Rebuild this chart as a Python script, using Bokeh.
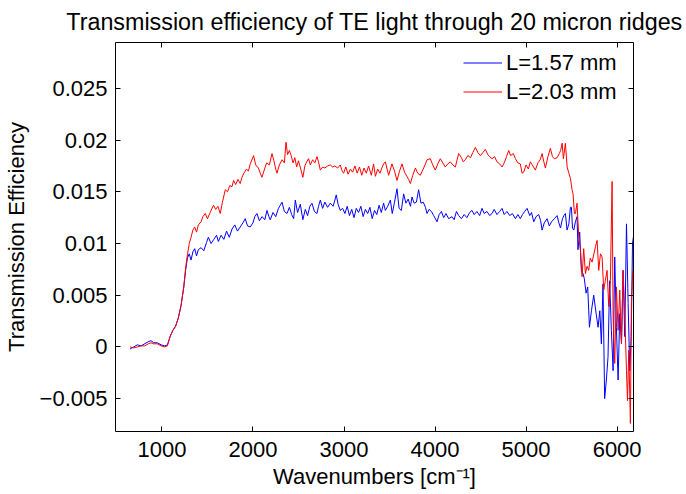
from bokeh.plotting import figure
from bokeh.models import Range1d, LinearAxis, FixedTicker, Legend, LegendItem
from bokeh.embed import file_html
from bokeh.resources import INLINE

# ---------------- data ----------------
wn_157 = [650, 690, 730, 770, 810, 850, 880, 910, 950, 990, 1030, 1060, 1090, 1120, 1150, 1180,
          1210, 1240, 1260, 1280, 1300, 1320, 1340, 1360, 1380, 1400, 1430, 1460, 1490, 1510,
          1540, 1570, 1600, 1620, 1650, 1680, 1710, 1740, 1770, 1800, 1830, 1860, 1890, 1915,
          1940, 1970, 2000, 2020, 2044, 2070, 2100, 2130, 2154, 2175, 2190, 2220, 2250, 2280,
          2300, 2319, 2345, 2374, 2400, 2425, 2447, 2465, 2490, 2520, 2548, 2575, 2600, 2625,
          2648, 2675, 2703, 2720, 2740, 2765, 2790, 2820, 2849, 2880, 2900, 2915, 2935, 2959,
          2985, 3010, 3035, 3060, 3085, 3110, 3135, 3160, 3185, 3210, 3235, 3260, 3285, 3310,
          3335, 3360, 3385, 3410, 3435, 3454, 3480, 3509, 3530, 3555, 3582, 3605, 3630, 3655,
          3680, 3705, 3730, 3747, 3770, 3795, 3820, 3845, 3870, 3895, 3912, 3935, 3960, 3985,
          4022, 4045, 4070, 4095, 4120, 4150, 4186, 4210, 4235, 4260, 4290, 4320, 4350, 4380,
          4406, 4430, 4460, 4490, 4516, 4540, 4570, 4600, 4626, 4650, 4680, 4710, 4736, 4760,
          4790, 4820, 4850, 4883, 4910, 4937, 4960, 4985, 5011, 5040, 5060, 5084, 5110, 5139,
          5160, 5176, 5200, 5231, 5255, 5280, 5310, 5341, 5360, 5378, 5400, 5415, 5432, 5450,
          5470, 5487, 5498, 5510, 5524, 5542, 5560, 5570, 5589, 5607, 5625, 5640, 5659, 5677,
          5696, 5718, 5743, 5770, 5791, 5810, 5827, 5845, 5863, 5882, 5900, 5918, 5937, 5956,
          5974, 5992, 6011, 6029, 6048, 6066, 6084, 6103, 6121, 6139, 6155, 6169, 6180]
te_157 = [-0.0002, 0.0000, 0.0002, 0.0001, 0.0003, 0.0005, 0.0006, 0.0004, 0.0004, 0.0002, 0.0001,
          0.0002, 0.0010, 0.0016, 0.0020, 0.0028, 0.0040, 0.0058, 0.0074, 0.0086, 0.0090, 0.0084,
          0.0092, 0.0095, 0.0088, 0.0094, 0.0096, 0.0093, 0.0101, 0.0106, 0.0100, 0.0104, 0.0108,
          0.0102, 0.0108, 0.0104, 0.0112, 0.0106, 0.0114, 0.0118, 0.0112, 0.0116, 0.0120, 0.0124,
          0.0117, 0.0116, 0.0120, 0.0126, 0.0129, 0.0122, 0.0126, 0.0123, 0.0132, 0.0126, 0.0123,
          0.0130, 0.0126, 0.0134, 0.0137, 0.0140, 0.0131, 0.0129, 0.0135, 0.0128, 0.0124, 0.0142,
          0.0130, 0.0138, 0.0123, 0.0133, 0.0127, 0.0136, 0.0139, 0.0131, 0.0129, 0.0136, 0.0142,
          0.0134, 0.0140, 0.0135, 0.0139, 0.0136, 0.0142, 0.0147, 0.0138, 0.0132, 0.0134, 0.0129,
          0.0136, 0.0127, 0.0133, 0.0125, 0.0134, 0.0130, 0.0136, 0.0126, 0.0133, 0.0129, 0.0135,
          0.0124, 0.0132, 0.0128, 0.0137, 0.0130, 0.0139, 0.0132, 0.0136, 0.0142, 0.0129, 0.0140,
          0.0153, 0.0134, 0.0132, 0.0148, 0.0139, 0.0143, 0.0136, 0.0145, 0.0139, 0.0140, 0.0152,
          0.0139, 0.0140, 0.0135, 0.0129, 0.0133, 0.0131, 0.0127, 0.0121, 0.0128, 0.0131, 0.0125,
          0.0129, 0.0124, 0.0126, 0.0123, 0.0131, 0.0127, 0.0124, 0.0128, 0.0125, 0.0130, 0.0132,
          0.0128, 0.0131, 0.0127, 0.0134, 0.0129, 0.0131, 0.0127, 0.0129, 0.0133, 0.0128, 0.0131,
          0.0134, 0.0128, 0.0131, 0.0127, 0.0129, 0.0124, 0.0128, 0.0124, 0.0128, 0.0131, 0.0134,
          0.0127, 0.0130, 0.0121, 0.0126, 0.0128, 0.0122, 0.0113, 0.0120, 0.0124, 0.0117, 0.0121,
          0.0124, 0.0127, 0.0120, 0.0115, 0.0124, 0.0127, 0.0129, 0.0113, 0.0119, 0.0135, 0.0135,
          0.0115, 0.0113, 0.0121, 0.0126, 0.0094, 0.0111, 0.0074, 0.0071, 0.0066, 0.0052, 0.0058,
          0.0019, 0.0035, 0.0050, 0.0032, 0.0019, 0.0035, 0.0003, 0.0061, -0.0050, -0.0032,
          -0.0010, 0.0064, 0.0016, -0.0023, 0.0087, 0.0019, -0.0032, 0.0032, 0.0003, 0.0074,
          0.0010, 0.0119, 0.0042, -0.0023, 0.0010, 0.0100, 0.0107]

wn_203 = [650, 690, 730, 770, 810, 850, 880, 910, 950, 990, 1030, 1060, 1090, 1120, 1150, 1180,
          1210, 1240, 1260, 1280, 1300, 1320, 1340, 1360, 1380, 1400, 1430, 1450, 1476, 1500,
          1530, 1550, 1567, 1590, 1615, 1641, 1665, 1696, 1720, 1745, 1770, 1787, 1810, 1835,
          1860, 1879, 1900, 1930, 1950, 1970, 2007, 2030, 2060, 2080, 2099, 2120, 2150, 2180,
          2209, 2230, 2250, 2264, 2290, 2320, 2345, 2363, 2380, 2400, 2420, 2440, 2460, 2480,
          2500, 2525, 2548, 2570, 2590, 2611, 2630, 2655, 2680, 2703, 2720, 2740, 2765, 2790,
          2820, 2849, 2875, 2900, 2930, 2959, 2980, 2996, 3020, 3045, 3070, 3095, 3120, 3145,
          3170, 3195, 3220, 3245, 3270, 3300, 3325, 3345, 3370, 3395, 3415, 3435, 3454, 3490,
          3527, 3555, 3582, 3610, 3637, 3665, 3690, 3710, 3729, 3755, 3784, 3810, 3838, 3870,
          3895, 3912, 3948, 3975, 4003, 4030, 4058, 4085, 4113, 4140, 4168, 4195, 4223, 4240,
          4259, 4290, 4310, 4333, 4360, 4390, 4415, 4443, 4470, 4498, 4525, 4553, 4580, 4600,
          4626, 4655, 4680, 4710, 4736, 4760, 4785, 4809, 4830, 4860, 4883, 4910, 4937, 4956,
          4974, 5000, 5025, 5047, 5075, 5102, 5130, 5155, 5176, 5195, 5212, 5240, 5267, 5290,
          5310, 5341, 5365, 5380, 5396, 5410, 5432, 5451, 5470, 5487, 5505, 5516, 5531, 5542,
          5560, 5579, 5597, 5615, 5633, 5652, 5670, 5688, 5705, 5725, 5745, 5762, 5780, 5798,
          5817, 5835, 5853, 5870, 5890, 5908, 5926, 5945, 5956, 5974, 5992, 6011, 6029, 6048,
          6066, 6084, 6103, 6114, 6128, 6146, 6157, 6172]
te_203 = [0.0000, -0.0001, 0.0000, 0.0001, 0.0001, 0.0003, 0.0004, 0.0003, 0.0003, 0.0001, 0.0000,
          0.0001, 0.0010, 0.0016, 0.0020, 0.0028, 0.0040, 0.0058, 0.0076, 0.0089, 0.0100, 0.0106,
          0.0113, 0.0116, 0.0111, 0.0118, 0.0121, 0.0126, 0.0129, 0.0124, 0.0130, 0.0134, 0.0137,
          0.0133, 0.0136, 0.0129, 0.0140, 0.0152, 0.0150, 0.0156, 0.0155, 0.0161, 0.0157, 0.0162,
          0.0158, 0.0164, 0.0168, 0.0172, 0.0170, 0.0177, 0.0185, 0.0176, 0.0173, 0.0168, 0.0164,
          0.0170, 0.0178, 0.0176, 0.0187, 0.0180, 0.0172, 0.0168, 0.0176, 0.0181, 0.0178, 0.0198,
          0.0186, 0.0190, 0.0185, 0.0178, 0.0183, 0.0174, 0.0180, 0.0172, 0.0164, 0.0175, 0.0179,
          0.0182, 0.0176, 0.0181, 0.0178, 0.0184, 0.0179, 0.0171, 0.0174, 0.0173, 0.0175, 0.0176,
          0.0174, 0.0175, 0.0173, 0.0176, 0.0170, 0.0168, 0.0174, 0.0167, 0.0172, 0.0169, 0.0175,
          0.0168, 0.0174, 0.0166, 0.0173, 0.0168, 0.0175, 0.0166, 0.0177, 0.0165, 0.0172, 0.0168,
          0.0173, 0.0177, 0.0179, 0.0166, 0.0177, 0.0170, 0.0161, 0.0170, 0.0177, 0.0169, 0.0165,
          0.0162, 0.0158, 0.0166, 0.0173, 0.0168, 0.0166, 0.0172, 0.0177, 0.0181, 0.0182, 0.0176,
          0.0171, 0.0177, 0.0182, 0.0178, 0.0174, 0.0177, 0.0179, 0.0176, 0.0174, 0.0180, 0.0187,
          0.0183, 0.0179, 0.0181, 0.0185, 0.0183, 0.0188, 0.0193, 0.0188, 0.0185, 0.0188, 0.0191,
          0.0186, 0.0184, 0.0182, 0.0184, 0.0179, 0.0177, 0.0174, 0.0178, 0.0184, 0.0190, 0.0185,
          0.0187, 0.0182, 0.0178, 0.0177, 0.0168, 0.0169, 0.0176, 0.0172, 0.0179, 0.0175, 0.0171,
          0.0178, 0.0181, 0.0187, 0.0179, 0.0173, 0.0184, 0.0192, 0.0184, 0.0182, 0.0183, 0.0187,
          0.0190, 0.0197, 0.0182, 0.0197, 0.0174, 0.0168, 0.0163, 0.0152, 0.0148, 0.0129, 0.0129,
          0.0139, 0.0106, 0.0094, 0.0068, 0.0095, 0.0071, 0.0078, 0.0074, 0.0086, 0.0082, 0.0090,
          0.0097, 0.0103, 0.0074, 0.0090, 0.0087, 0.0055, 0.0064, 0.0074, 0.0039, 0.0064, 0.0160,
          0.0029, -0.0016, 0.0058, 0.0016, 0.0055, 0.0003, 0.0074, 0.0032, -0.0023, -0.0052,
          -0.0003, -0.0074, 0.0042, 0.0074]

series_labels = ["L=1.57 mm", "L=2.03 mm"]
x_ticks = [1000, 2000, 3000, 4000, 5000, 6000]
y_ticks = [-0.005, 0, 0.005, 0.01, 0.015, 0.02, 0.025]
y_tick_labels = ["\u22120.005", "0", "0.005", "0.01", "0.015", "0.02", "0.025"]

FONT = "Liberation Sans"
FS = "22px"

p = figure(width=686, height=494, output_backend="svg", toolbar_location=None,
           x_range=Range1d(490, 6180), y_range=Range1d(-0.00818, 0.02944),
           min_border_left=115, min_border_right=53, min_border_top=42, min_border_bottom=63,
           background_fill_color="white", border_fill_color="white")
p.outline_line_color = None
p.grid.visible = False

p.title.text = "Transmission efficiency of TE light through 20 micron ridges"
p.title.text_font = FONT
p.title.text_font_size = "23.3px"
p.title.text_font_style = "normal"
p.title.align = "center"
p.title.vertical_align = "top"
p.title.text_color = "black"
p.title.standoff = 12

r1 = p.line(wn_157, te_157, line_color="#0000ff", line_width=1)
r2 = p.line(wn_203, te_203, line_color="#ff0000", line_width=1)

# extra axes for a MATLAB-like box (ticks only, labels not drawn)
p.add_layout(LinearAxis(), "right")
p.add_layout(LinearAxis(), "above")

for ax in p.axis:
    ax.axis_line_color = "black"
    ax.axis_line_width = 1
    ax.major_tick_line_color = "black"
    ax.major_tick_in = 5
    ax.major_tick_out = 0
    ax.minor_tick_line_color = None
    ax.major_label_text_font = FONT
    ax.major_label_text_font_size = FS
    ax.major_label_text_color = "black"
    ax.axis_label_text_font = FONT
    ax.axis_label_text_font_size = FS
    ax.axis_label_text_font_style = "normal"
    ax.axis_label_text_color = "black"

for ax in p.xaxis:
    ax.ticker = FixedTicker(ticks=x_ticks)
for ax in p.yaxis:
    ax.ticker = FixedTicker(ticks=y_ticks)
    ax.major_label_overrides = {t: s for t, s in zip(y_ticks, y_tick_labels)}

for ax in (p.right[0], p.above[0]):
    ax.major_label_text_font_size = "1px"
    ax.major_label_text_color = None
    ax.major_label_text_alpha = 0
    ax.major_label_standoff = 0

p.below[0].axis_label = "Wavenumbers [cm\u207b\u00b9]"
p.below[0].major_label_standoff = 10
p.below[0].axis_label_standoff = 4
p.left[0].axis_label = "Transmission Efficiency"
p.left[0].major_label_standoff = 8
p.left[0].axis_label_standoff = 8

legend = Legend(items=[LegendItem(label=series_labels[0], renderers=[r1]),
                       LegendItem(label=series_labels[1], renderers=[r2])],
                location=(348, 325), orientation="vertical")
legend.label_text_font = FONT
legend.label_text_font_size = FS
legend.label_text_color = "black"
legend.glyph_width = 39
legend.glyph_height = 29
legend.label_height = 29
legend.label_standoff = 4
legend.spacing = 0
legend.padding = 0
legend.margin = 0
legend.border_line_alpha = 0
legend.background_fill_alpha = 0
p.add_layout(legend, "center")

open("out.html", "w").write(file_html(p, INLINE))
